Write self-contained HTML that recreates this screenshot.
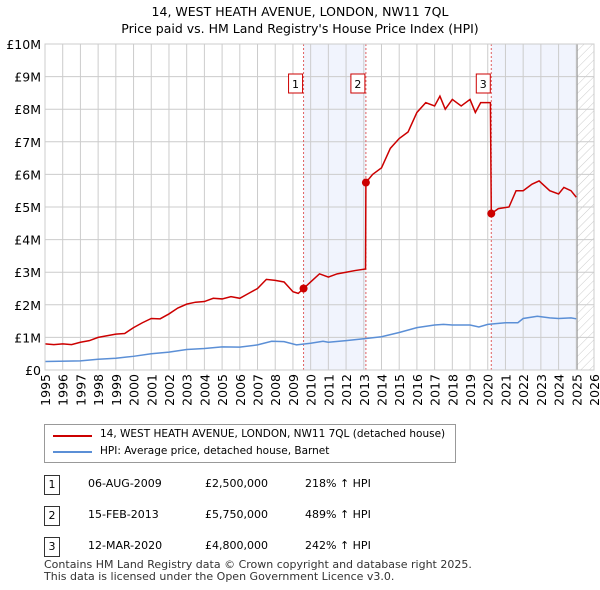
<!DOCTYPE html>
<html><head><meta charset="utf-8"><style>
body{margin:0;background:#fff;font-family:"DejaVu Sans",sans-serif;}
#wrap{position:relative;width:600px;height:590px;}
.t{position:absolute;font-size:12px;color:#000;white-space:nowrap;font-family:"DejaVu Sans",sans-serif;}
</style></head><body>
<div id="wrap">
<div class="t" style="left:0;width:600px;text-align:center;top:3px;font-size:12.5px;line-height:17px">14, WEST HEATH AVENUE, LONDON, NW11 7QL<br>Price paid vs. HM Land Registry's House Price Index (HPI)</div>
<svg id="c" width="600" height="420" style="position:absolute;left:0;top:0"></svg>
<div style="position:absolute;left:44px;top:424px;width:410px;height:37px;border:1px solid #999;"></div>
<svg width="60" height="40" style="position:absolute;left:44px;top:424px"><line x1="9" y1="12" x2="48" y2="12" stroke="#cc0000" stroke-width="2"/><line x1="9" y1="28" x2="48" y2="28" stroke="#5b8fd6" stroke-width="2"/></svg>
<div class="t" style="left:100px;top:428px;font-size:10.5px">14, WEST HEATH AVENUE, LONDON, NW11 7QL (detached house)</div>
<div class="t" style="left:100px;top:445px;font-size:10.5px">HPI: Average price, detached house, Barnet</div>
<div id="tbl"></div>
<div class="t" style="left:44px;top:559px;font-size:11px;line-height:12px;color:#333">Contains HM Land Registry data © Crown copyright and database right 2025.<br>This data is licensed under the Open Government Licence v3.0.</div>
</div>
<script>
const redX=[1995,1995.5,1996,1996.5,1997,1997.5,1998,1998.5,1999,1999.5,2000,2000.5,2001,2001.5,2002,2002.5,2003,2003.5,2004,2004.5,2005,2005.5,2006,2006.5,2007,2007.5,2008,2008.5,2009,2009.3,2009.6,2010,2010.5,2011,2011.5,2012,2012.5,2013.1,2013.12,2013.5,2014,2014.5,2015,2015.5,2016,2016.5,2017,2017.3,2017.6,2018,2018.5,2019,2019.3,2019.6,2020.15,2020.2,2020.6,2021.2,2021.6,2022,2022.5,2022.9,2023.5,2024,2024.3,2024.7,2025];
const redY=[0.8,0.78,0.8,0.78,0.85,0.9,1.0,1.05,1.1,1.12,1.3,1.45,1.58,1.57,1.72,1.9,2.02,2.08,2.1,2.2,2.18,2.25,2.2,2.35,2.5,2.78,2.75,2.7,2.4,2.35,2.5,2.7,2.95,2.85,2.95,3.0,3.05,3.1,5.75,6.0,6.2,6.8,7.1,7.3,7.9,8.2,8.1,8.4,8.0,8.3,8.1,8.3,7.9,8.2,8.2,4.8,4.95,5.0,5.5,5.5,5.7,5.8,5.5,5.4,5.6,5.5,5.3];
const hpiX=[1995,1997,1998,1999,2000,2001,2002,2003,2004,2005,2006,2007,2007.8,2008.5,2009.2,2010,2010.7,2011,2012,2013,2014,2015,2016,2017,2017.5,2018,2019,2019.5,2020,2021,2021.7,2022,2022.8,2023.5,2024,2024.7,2025];
const hpiY=[0.26,0.28,0.33,0.36,0.42,0.5,0.55,0.63,0.66,0.71,0.7,0.77,0.88,0.87,0.77,0.82,0.88,0.85,0.9,0.96,1.02,1.15,1.3,1.38,1.4,1.38,1.38,1.32,1.4,1.45,1.45,1.58,1.65,1.6,1.58,1.6,1.57];
const saleX=[2009.6,2013.12,2020.2];
const saleY=[2.5,5.75,4.8];
const saleLabels=["1","2","3"];
const yTicks=[0,1,2,3,4,5,6,7,8,9,10];
const yTickLabels=["£0","£1M","£2M","£3M","£4M","£5M","£6M","£7M","£8M","£9M","£10M"];
const xTicks=[1995,1996,1997,1998,1999,2000,2001,2002,2003,2004,2005,2006,2007,2008,2009,2010,2011,2012,2013,2014,2015,2016,2017,2018,2019,2020,2021,2022,2023,2024,2025,2026];
const rows=[["1","06-AUG-2009","£2,500,000","218% ↑ HPI"],["2","15-FEB-2013","£5,750,000","489% ↑ HPI"],["3","12-MAR-2020","£4,800,000","242% ↑ HPI"]];
const L=45,R=594,T=44,B=370;
const sx=v=>L+(v-1995)*(R-L)/31, sy=v=>B-v*(B-T)/10;
const svg=document.getElementById('c');const NS='http://www.w3.org/2000/svg';
const FF='DejaVu Sans, sans-serif';
function mk(t,a,p){const e=document.createElementNS(NS,t);for(const k in a)e.setAttribute(k,a[k]);(p||svg).appendChild(e);return e;}
let d=mk('defs',{});let pat=mk('pattern',{id:'h',width:6,height:6,patternUnits:'userSpaceOnUse',patternTransform:'rotate(45)'},d);mk('line',{x1:0,y1:0,x2:0,y2:6,stroke:'#ccc','stroke-width':1},pat);
let s1=mk('rect',{x:sx(2009.6),y:T,width:sx(2013.12)-sx(2009.6),height:B-T,fill:'#f1f4fd'});

let s2=mk('rect',{x:sx(2020.2),y:T,width:sx(2025.05)-sx(2020.2),height:B-T,fill:'#f1f4fd'});

let hz=mk('rect',{x:sx(2025.05),y:T,width:R-sx(2025.05),height:B-T,fill:'url(#h)'});

yTicks.forEach((v,i)=>{mk('line',{x1:L,x2:R,y1:sy(v),y2:sy(v),stroke:'#ccc'});
let t=mk('text',{x:L-4,y:sy(v)+5,'text-anchor':'end','font-size':12.5,'font-family':FF});t.textContent=yTickLabels[i];
});
xTicks.forEach(v=>{mk('line',{x1:sx(v),x2:sx(v),y1:T,y2:B,stroke:'#ccc'});
let t=mk('text',{transform:`translate(${sx(v)+5},${B+4}) rotate(-90)`,'text-anchor':'end','font-size':12.5,'font-family':FF});t.textContent=v;
});
mk('line',{x1:sx(2025.05),x2:sx(2025.05),y1:T,y2:B,stroke:'#999'});
saleX.forEach(v=>mk('line',{x1:sx(v),x2:sx(v),y1:T,y2:B,stroke:'#e06060','stroke-dasharray':'2,2'}));
let hp=mk('polyline',{points:hpiX.map((x,i)=>sx(x)+','+sy(hpiY[i])).join(' '),fill:'none',stroke:'#5b8fd6','stroke-width':1.5});

let rp=mk('polyline',{points:redX.map((x,i)=>sx(x)+','+sy(redY[i])).join(' '),fill:'none',stroke:'#cc0000','stroke-width':1.5});

saleX.forEach((v,i)=>{let p=mk('circle',{cx:sx(v),cy:sy(saleY[i]),r:4,fill:'#cc0000'});

let g=mk('g',{});
mk('rect',{x:sx(v)-15,y:74,width:14,height:19,fill:'#fff',stroke:'#cc0000'},g);
let t=mk('text',{x:sx(v)-8,y:88,'text-anchor':'middle','font-size':11,'font-family':FF},g);t.textContent=saleLabels[i];});
mk('rect',{x:L,y:T,width:R-L,height:B-T,fill:'none',stroke:'#ccc'});
const tb=document.getElementById('tbl');
rows.forEach((r,i)=>{const y=475+i*31;
const b=document.createElement('div');b.className='t';b.style.cssText=`left:44px;top:${y}px;width:14px;height:18px;border:1px solid #333;text-align:center;line-height:18px;font-size:11px`;b.textContent=r[0];
tb.appendChild(b);
[[88,r[1]],[205,r[2]],[305,r[3]]].forEach(([x,s])=>{const e=document.createElement('div');e.className='t';e.style.cssText=`left:${x}px;top:${y+2}px;font-size:11px`;e.textContent=s;
tb.appendChild(e);});});
</script>
</body></html>
